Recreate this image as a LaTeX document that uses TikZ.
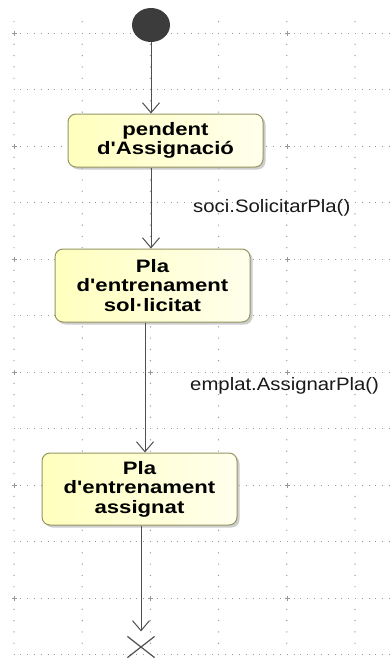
\documentclass[tikz,border=0pt]{standalone}
\usepackage{fontspec}
\newfontfamily\boxfont[FakeStretch=1.23]{Liberation Sans}
\newfontfamily\lblfont[FakeStretch=1.13]{Liberation Sans}
\usetikzlibrary{arrows.meta,shadows,shapes.misc,shapes.geometric}
\definecolor{gridc}{gray}{0.6}
\definecolor{linec}{RGB}{80,80,80}
\definecolor{boxborder}{RGB}{150,150,100}
\definecolor{boxfillL}{RGB}{255,255,190}
\definecolor{boxfillR}{RGB}{255,255,236}
\definecolor{initc}{RGB}{60,60,60}
\definecolor{textc}{RGB}{25,25,25}
\begin{document}
\begin{tikzpicture}[x=1pt,y=-1pt,
  statebox/.style={draw=boxborder, line width=1pt, rounded corners=8pt,
    left color=boxfillL, right color=boxfillR, minimum width=195pt,
    inner sep=0pt, align=center, text=black,
    font=\boxfont\bfseries\fontsize{18}{19.5}\selectfont,
    drop shadow={shadow xshift=2.5pt, shadow yshift=-2.5pt, fill=gray!55, opacity=0.7}},
  conn/.style={draw=linec, line width=1pt, -{Straight Barb[length=10pt,width=17pt,line width=1pt]}},
  lbl/.style={font=\lblfont\fontsize{18}{20}\selectfont, anchor=base west, inner sep=0pt, text=textc},
  gridrow/.style={draw=gridc, line width=1pt, dash pattern=on 1pt off 5.83pt},
  griddot/.style={fill=gridc},
  gridplus/.style={draw=gridc, line width=0.7pt}
]
\fill[white] (0,0) rectangle (390,659);
\useasboundingbox (0,0) rectangle (390,659);
% grid rows
\foreach \r in {33,89.5,146,202.5,259,315.5,372,428.5,485,541.5,598,654.5} {
  \draw[gridrow] (13.5,\r) -- (390,\r);
}
% grid columns
\foreach \gx in {14,82.2,150.4,218.6,286.8,355} {
  \foreach \gy in {21.7,44.3,55.6,66.9,78.2,100.8,112.1,123.4,134.7,157.3,168.6,179.9,191.2,213.8,225.1,236.4,247.7,270.3,281.6,292.9,304.2,326.8,338.1,349.4,360.7,383.3,394.6,405.9,417.2,439.8,451.1,462.4,473.7,496.3,507.6,518.9,530.2,552.8,564.1,575.4,586.7,609.3,620.6,631.9,643.2} {
    \fill[griddot] (\gx,\gy) circle (0.7pt);
  }
}
% grid crosses
\foreach \x in {14,150.5,287} {
  \foreach \y in {33,146,259,372,485,598} {
    \draw[gridplus] (\x-2.5,\y) -- (\x+2.5,\y) (\x,\y-2.5) -- (\x,\y+2.5);
  }
}
% nodes
\node[ellipse, fill=initc, minimum width=38pt, minimum height=34pt, inner sep=0pt] (init) at (151,25) {};
\node[statebox, minimum height=53pt] (s1) at (165.5,140.5) {pendent\\d'Assignació};
\node[statebox, minimum height=73pt] (s2) at (152.5,285.5) {Pla\\d'entrenament\\sol·licitat};
\node[statebox, minimum height=72pt] (s3) at (139.5,489) {Pla\\d'entrenament\\assignat};
\node[cross out, draw=linec, line width=1.2pt, minimum width=26pt, minimum height=20pt, inner sep=0pt] (fin) at (141,647) {};
\coordinate (x3) at (145,0);
% connectors
\draw[conn] (init.south) -- (s1.north -| init.south);
\draw[conn] (s1.south -| init.south) -- (s2.north -| init.south);
\draw[conn] (s2.south -| x3) -- (s3.north -| x3);
\draw[conn, shorten >=5pt] (s3.south -| fin) -- (fin.north);
% labels
\node[lbl] (l1) at (193,212) {soci.SolicitarPla()};
\node[lbl] (l2) at (190,390) {emplat.AssignarPla()};
\end{tikzpicture}
\end{document}
